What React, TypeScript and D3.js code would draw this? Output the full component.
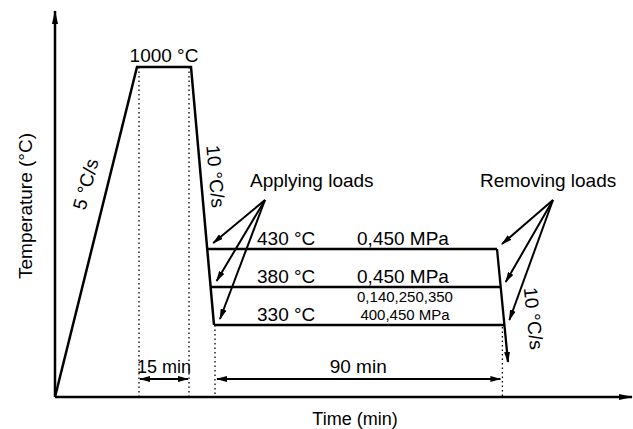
import React from 'react';
import * as d3 from 'd3';

// schematic heat treatment profile (not to scale)
const roomTemp = 20;
const peakTemp = 1000;
const holdTemps = [430, 380, 330];
const holdTempLabels = ['430 °C', '380 °C', '330 °C'];
const stressLabels = [['0,450 MPa'], ['0,450 MPa'], ['0,140,250,350', '400,450 MPa']];
const rateLabels = ['5 °C/s', '10 °C/s', '10 °C/s'];
const durationLabels = ['15 min', '90 min'];
const endTemp = 171;
// heating end, soak end, quench end, unloading start, cooling end (min)
const phaseTimes = [0, 3.25, 18.25, 19.4, 109.4, 110.6];

const W = 633;
const H = 429;
const FONT = '"Liberation Sans", Arial, Helvetica, sans-serif';

const x = d3.scaleLinear().domain(phaseTimes).range([55, 137, 191, 214, 497, 508]);
const y = d3
  .scaleLinear()
  .domain([roomTemp, 330, 380, 430, peakTemp])
  .range([397, 325, 287, 249, 67]);

// x on the segment p0-p1 at height yy
function xAt(p0: [number, number], p1: [number, number], yy: number) {
  return p0[0] + ((p1[0] - p0[0]) * (yy - p0[1])) / (p1[1] - p0[1]);
}

export default function App() {
  const line = d3.line();
  const y0 = y(roomTemp);
  const heatStart: [number, number] = [x(phaseTimes[0]), y0];
  const heatEnd: [number, number] = [x(phaseTimes[1]), y(peakTemp)];
  const soakEnd: [number, number] = [x(phaseTimes[2]), y(peakTemp)];
  const quenchEnd: [number, number] = [x(phaseTimes[3]), y(holdTemps[2])];
  const unloadStart: [number, number] = [x(phaseTimes[4]), y(holdTemps[0])];
  const coolEnd: [number, number] = [x(phaseTimes[5]), y(endTemp)];

  const holds = holdTemps.map((t, i) => {
    const yy = y(t);
    return {
      t,
      yy,
      x0: xAt(soakEnd, quenchEnd, yy),
      x1: i === 0 ? unloadStart[0] : xAt(unloadStart, coolEnd, yy),
    };
  });

  const rightDot = holds[2].x1 - 2;
  const dimY = y0 - 18;
  const applyFrom: [number, number] = [265, 200];
  const removeFrom: [number, number] = [553, 200];

  const dotted = [
    [heatEnd[0] + 2, heatEnd[1], y0],
    [soakEnd[0] - 2, soakEnd[1], y0],
    [quenchEnd[0] + 1, quenchEnd[1], y0],
    [rightDot, quenchEnd[1] + 2, y0],
  ];

  return (
    <svg
      width={W}
      height={H}
      style={{ position: 'absolute', left: 0, top: 0, background: '#fff' }}
      fontFamily={FONT}
      fill="#000"
    >
      <defs>
        <marker id="axhead" viewBox="0 0 14 6" refX="13" refY="3" markerWidth="14" markerHeight="6" markerUnits="userSpaceOnUse" orient="auto">
          <path d="M0,0 L14,3 L0,6 Z" fill="#000" />
        </marker>
        <marker id="head" viewBox="0 0 11 6" refX="10" refY="3" markerWidth="11" markerHeight="6" markerUnits="userSpaceOnUse" orient="auto">
          <path d="M0,0 L11,3 L0,6 Z" fill="#000" />
        </marker>
        <marker id="headStart" viewBox="0 0 11 6" refX="1" refY="3" markerWidth="11" markerHeight="6" markerUnits="userSpaceOnUse" orient="auto">
          <path d="M11,0 L0,3 L11,6 Z" fill="#000" />
        </marker>
      </defs>

      {/* dotted guides */}
      {dotted.map(([dx, ya, yb], i) => (
        <line key={i} x1={dx} x2={dx} y1={ya} y2={yb} stroke="#000" strokeWidth={1.3} strokeDasharray="1.5 3" />
      ))}

      {/* axes */}
      <line x1={heatStart[0]} y1={y0} x2={heatStart[0]} y2={11} stroke="#000" strokeWidth={2.5} markerEnd="url(#axhead)" />
      <line x1={heatStart[0]} y1={y0} x2={632} y2={y0} stroke="#000" strokeWidth={2.5} markerEnd="url(#axhead)" />

      {/* profile */}
      <path d={line([heatStart, heatEnd, soakEnd, quenchEnd]) || ''} fill="none" stroke="#000" strokeWidth={2.5} strokeLinejoin="miter" />
      {holds.map((h, i) => (
        <line key={i} x1={h.x0} x2={h.x1} y1={h.yy} y2={h.yy} stroke="#000" strokeWidth={2.3} />
      ))}
      <line x1={unloadStart[0]} y1={unloadStart[1]} x2={coolEnd[0]} y2={coolEnd[1]} stroke="#000" strokeWidth={2.3} markerEnd="url(#head)" />

      {/* load arrows */}
      {holds.map((h, i) => (
        <line key={'a' + i} x1={applyFrom[0]} y1={applyFrom[1]} x2={h.x0 + 6} y2={h.yy - 6} stroke="#000" strokeWidth={2} markerEnd="url(#head)" />
      ))}
      {holds.map((h, i) => (
        <line key={'r' + i} x1={removeFrom[0]} y1={removeFrom[1]} x2={h.x1 + 5} y2={h.yy - 5} stroke="#000" strokeWidth={2} markerEnd="url(#head)" />
      ))}

      {/* duration dimensions */}
      <line x1={heatEnd[0] + 3} x2={soakEnd[0] - 3} y1={dimY} y2={dimY} stroke="#000" strokeWidth={2} markerStart="url(#headStart)" markerEnd="url(#head)" />
      <line x1={quenchEnd[0] + 3} x2={rightDot - 2} y1={dimY} y2={dimY} stroke="#000" strokeWidth={2} markerStart="url(#headStart)" markerEnd="url(#head)" />
      <text x={(heatEnd[0] + soakEnd[0]) / 2} y={dimY - 6} fontSize={18} textAnchor="middle">{durationLabels[0]}</text>
      <text x={(quenchEnd[0] + rightDot) / 2} y={dimY - 6} fontSize={19} textAnchor="middle">{durationLabels[1]}</text>

      {/* labels */}
      <text x={(heatEnd[0] + soakEnd[0]) / 2} y={heatEnd[1] - 5} fontSize={19} textAnchor="middle">1000 °C</text>
      <text transform="translate(92,186) rotate(-75)" fontSize={19} textAnchor="middle">{rateLabels[0]}</text>
      <text transform="translate(209,177) rotate(85)" fontSize={19} textAnchor="middle">{rateLabels[1]}</text>
      <text transform="translate(527,319) rotate(84)" fontSize={19} textAnchor="middle">{rateLabels[2]}</text>
      <text x={250} y={187} fontSize={19}>Applying loads</text>
      <text x={480} y={187} fontSize={19}>Removing loads</text>
      {holds.map((h, i) => (
        <text key={'t' + i} x={257} y={h.yy - 4} fontSize={19}>{holdTempLabels[i]}</text>
      ))}
      {holds.map((h, i) =>
        stressLabels[i].length === 1 ? (
          <text key={'s' + i} x={403} y={h.yy - 4} fontSize={19} textAnchor="middle">{stressLabels[i][0]}</text>
        ) : (
          <text key={'s' + i} x={405} fontSize={15} textAnchor="middle">
            {stressLabels[i].map((s, j) => (
              <tspan key={j} x={405} y={h.yy - 5 - (stressLabels[i].length - 1 - j) * 18}>{s}</tspan>
            ))}
          </text>
        )
      )}

      {/* axis titles */}
      <text transform="translate(32,206) rotate(-90)" fontSize={19} textAnchor="middle">Temperature (°C)</text>
      <text x={355} y={425} fontSize={18} textAnchor="middle">Time (min)</text>
    </svg>
  );
}
